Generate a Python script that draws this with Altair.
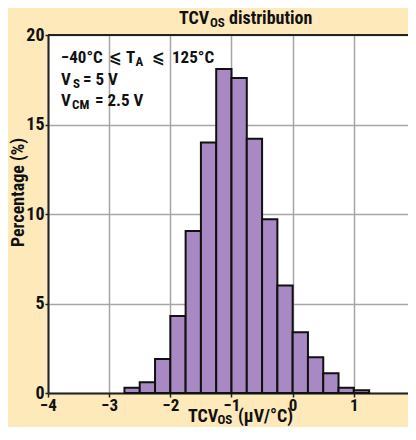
import altair as alt
import pandas as pd

# Histogram bins (TCVos, uV/degC) and percentage per bin
bin_start = [-2.75, -2.5, -2.25, -2.0, -1.75, -1.5, -1.25, -1.0, -0.75, -0.5, -0.25, 0.0, 0.25, 0.5, 0.75, 1.0]
bin_end = [-2.5, -2.25, -2.0, -1.75, -1.5, -1.25, -1.0, -0.75, -0.5, -0.25, 0.0, 0.25, 0.5, 0.75, 1.0, 1.25]
percentage = [0.3, 0.6, 1.9, 4.3, 9.05, 14.0, 18.1, 17.6, 14.2, 9.7, 6.0, 3.4, 2.0, 1.1, 0.3, 0.15]

x_ticks = [-4, -3, -2, -1, 0, 1, 2]
y_ticks = [0, 5, 10, 15, 20]

# Text fragments (title, annotations, x-axis title with subscripts), in data units
frag_text = ["TCV", "OS", "distribution",
             "\u221240\u00b0C", "\u2a7d", "T", "A", "\u2a7d", "125\u00b0C",
             "V", "S", "= 5 V",
             "V", "CM", "= 2.5 V",
             "TCV", "OS", "(\u03bcV/\u00b0C)"]
frag_x = [-1.858, -1.3515, -1.0409,
          -3.7875, -3.0027, -2.7248, -2.5695, -2.2997, -1.9728,
          -3.7875, -3.5913, -3.4278,
          -3.7875, -3.6076, -3.2316,
          -1.7112, -1.2288, -0.8937]
frag_y = [20.631, 20.419, 20.631,
          18.453, 18.453, 18.453, 18.268, 18.453, 18.453,
          17.207, 17.039, 17.207,
          16.006, 15.838, 16.006,
          -1.62, -1.72, -1.62]
frag_size = [18, 13, 18,
             17, 17, 17, 13, 17, 17,
             17, 13, 17,
             17, 13, 17,
             18, 13, 18]

FONT = "Roboto Condensed, Open Sans Condensed, DejaVu Sans Condensed, sans-serif"

bars_df = pd.DataFrame({"start": bin_start, "end": bin_end, "pct": percentage,
                        "base": [0] * len(bin_start)})
frag_df = pd.DataFrame({"t": frag_text, "x": frag_x, "y": frag_y, "s": frag_size})

# the right end of the axis (at 2) is cut off by the picture's edge, as in the reference
xs = alt.Scale(domain=[-4, 1.8856], nice=False, zero=False)
ys = alt.Scale(domain=[0, 20], nice=False, zero=False)

bars = alt.Chart(bars_df).mark_rect(
    fill="#A889C3", stroke="#111111", strokeWidth=2
).encode(
    x=alt.X("start:Q", scale=xs,
            axis=alt.Axis(values=x_ticks, title=None, format="d",
                          labelFlush=False, labelOverlap=False,
                          labelPadding=0, tickSize=4)),
    x2="end:Q",
    y=alt.Y("pct:Q", scale=ys,
            axis=alt.Axis(values=y_ticks, title="Percentage (%)", format="d",
                          labelPadding=1, tickSize=3,
                          titleX=-25, titleY=157, titleBaseline="alphabetic",
                          titleAlign="center", titleFontSize=18)),
    y2="base:Q",
)

top_frame = alt.Chart(pd.DataFrame({"top": [max(y_ticks)]})).mark_rule(
    color="#222222", strokeWidth=2
).encode(y=alt.Y("top:Q", scale=ys))

texts = alt.Chart(frag_df).mark_text(
    align="left", baseline="alphabetic", font=FONT, fontWeight="bold", color="#111111"
).encode(
    x=alt.X("x:Q", scale=xs),
    y=alt.Y("y:Q", scale=ys),
    text="t:N",
    size=alt.Size("s:Q", scale=None, legend=None),
)

chart = alt.layer(bars, top_frame, texts).properties(
    width=360,
    height=358,
    autosize=alt.AutoSizeParams(type="none"),
    padding={"left": 40, "top": 27, "right": 0, "bottom": 34},
    background="#FEE9BB",
).configure_view(
    fill="white", strokeWidth=0
).configure_axis(
    labelFont=FONT, labelFontWeight="bold", labelFontSize=17, labelColor="#111111",
    titleFont=FONT, titleFontWeight="bold", titleColor="#111111",
    grid=True, gridColor="#A6A6A6", gridWidth=1.5, gridOpacity=1,
    domainColor="#222222", domainWidth=2, tickColor="#222222", tickWidth=1.5,
).configure_axisY(labelFontSize=18)

chart.save("out.html", embed_options={"renderer": "svg", "actions": False})
